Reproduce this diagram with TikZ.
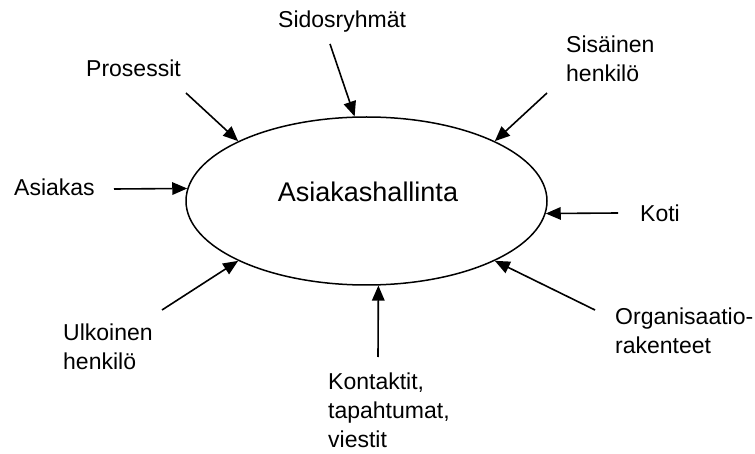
\documentclass[tikz,border=0pt]{standalone}
\usepackage{fontspec}
\setmainfont{Liberation Sans}
\usetikzlibrary{arrows.meta,shapes.geometric}
\begin{document}
\begin{tikzpicture}[x=1pt,y=-1pt,
  lbl/.style={inner sep=0pt,align=left,font=\fontsize{23}{29}\selectfont},
  into/.style={line width=1.6pt,-{Triangle[length=15pt,width=12.5pt]}},
  mainshape/.style={draw,ellipse,line width=1.5pt,minimum width=361pt,minimum height=168pt,inner sep=0pt}]
\useasboundingbox (0,0) rectangle (755,454);
\node[mainshape] (c) at (366.5,201) {};
\node[inner sep=0pt,anchor=base,font=\fontsize{27}{32}\selectfont] (title) at (368,202) {Asiakashallinta};

\node[lbl,anchor=base west] (pro) at (86,77) {Prosessit};
\node[lbl,anchor=base west] (sid) at (278,28) {Sidosryhmät};
\node[lbl,anchor=base west] (sis) at (566,82) {Sisäinen\\henkilö};
\node[lbl,anchor=base west] (kot) at (640,222) {Koti};
\node[lbl,anchor=base west] (asi) at (14,196) {Asiakas};
\node[lbl,anchor=base west] (org) at (615,353) {Organisaatio-\\rakenteet};
\node[lbl,anchor=base west] (ulk) at (63,370) {Ulkoinen\\henkilö};
\node[lbl,anchor=base west] (kon) at (328,447) {Kontaktit,\\tapahtumat,\\viestit};

\coordinate (pro0) at (186,93);
\coordinate (sid0) at (330,44);
\coordinate (sis0) at (547,93);
\coordinate (kot0) at (618,213);
\coordinate (asi0) at (114,189);
\coordinate (org0) at (595,310);
\coordinate (ulk0) at (162,310);
\coordinate (kon0) at (378,357);

\draw[into] (pro0) -- (c.155);
\draw[into] (sid0) -- (c.98.5);
\draw[into] (sis0) -- (c.25);
\draw[into] (kot0) -- (c.-4);
\draw[into] (asi0) -- (c.176);
\draw[into] (org0) -- (c.-25);
\draw[into] (ulk0) -- (c.205);
\draw[into] (kon0) -- (c.-82.3);
\end{tikzpicture}
\end{document}
